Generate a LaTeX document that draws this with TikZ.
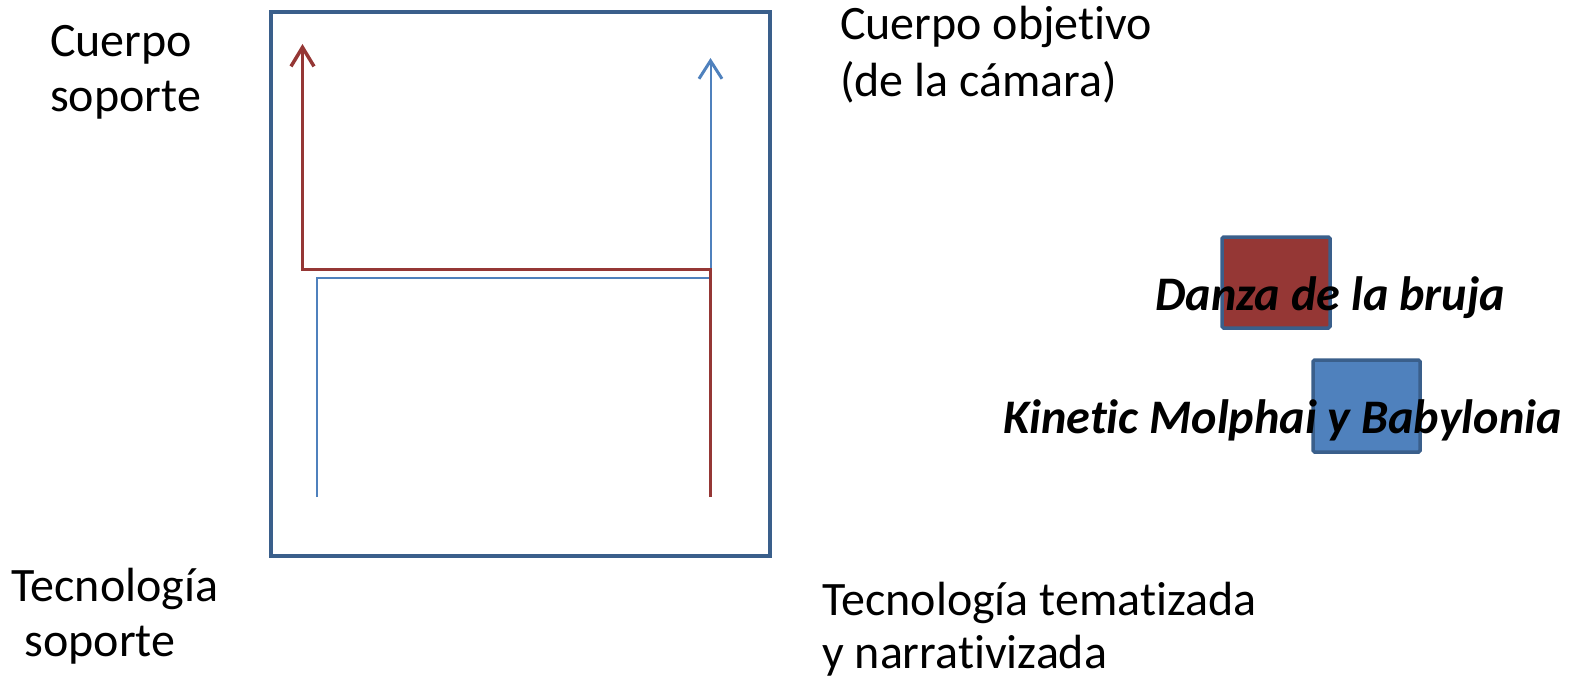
\documentclass[tikz,border=0pt]{standalone}
\usepackage{fontspec}
\setmainfont{Carlito}[Ligatures={NoCommon}]
\usetikzlibrary{arrows.meta}
\definecolor{frameblue}{HTML}{3A5F8B}
\definecolor{darkred}{HTML}{953735}
\definecolor{lightblue}{HTML}{4F81BD}
\tikzset{
  lbl/.style={inner sep=0pt, font=\fontsize{48}{57}\selectfont},
  blbl/.style={inner sep=0pt, font=\fontsize{48.2}{57}\selectfont\bfseries\itshape},
  redpath/.style={draw=darkred, line width=3pt, -{Straight Barb[length=19pt,width=23pt,line width=3.5pt]}},
  bluepath/.style={draw=lightblue, line width=2pt, -{Straight Barb[length=18pt,width=23pt,line width=3pt]}},
  swatch/.style={draw=frameblue, line width=3.5pt, rounded corners=1.5pt, inner sep=0pt}
}
\begin{document}
\begin{tikzpicture}[x=1pt,y=-1pt]
\useasboundingbox (0,0) rectangle (1570,679);
% frame
\node[draw=frameblue, line width=4pt, minimum width=499pt, minimum height=544pt, inner sep=0pt] (frame) at (520.5,284) {};
% coordinates of the paths
\coordinate (r0) at (710,497);
\coordinate (r1) at (710,269.5);
\coordinate (r2) at (302.5,269.5);
\coordinate (r3) at (302.5,44);
\coordinate (b0) at (317,497);
\coordinate (b1) at (317,277.5);
\coordinate (b2) at (710.5,277.5);
\coordinate (b3) at (710.5,58);
\draw[bluepath] (b0) -- (b1) -- (b2) -- (b3);
\draw[redpath] (r0) -- (r1) -- (r2) -- (r3);
% swatches
\node[swatch, fill=darkred, minimum width=108pt, minimum height=91pt] (sq1) at (1276,282.5) {};
\node[swatch, fill=lightblue, minimum width=107pt, minimum height=92pt] (sq2) at (1366.5,406) {};
% labels
\node[lbl, anchor=base west] (cs1) at (50,57) {Cuerpo};
\node[lbl, anchor=base west] (cs2) at (50,112) {soporte};
\node[lbl, anchor=base west] (co1) at (840,40) {Cuerpo objetivo};
\node[lbl, anchor=base west] (co2) at (840,97) {(de la cámara)};
\node[lbl, anchor=base] (ts1) at (115,601) {Tecnología};
\node[lbl, anchor=base] (ts2) at (100,656) {soporte};
\node[lbl, anchor=base west] (tt1) at (822,615) {Tecnología tematizada};
\node[lbl, anchor=base west] (tt2) at (822,668) {y narrativizada};
\node[blbl, anchor=base west] (db) at (1155,310) {Danza de la bruja};
\node[blbl, anchor=base west] (km) at (1003,433) {Kinetic Molphai y Babylonia};
\end{tikzpicture}
\end{document}
